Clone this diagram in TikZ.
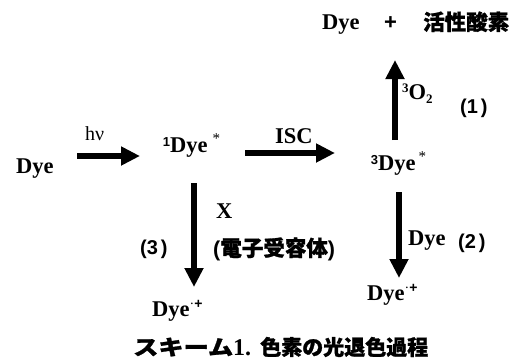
\documentclass[tikz,border=0pt]{standalone}
\usepackage{fontspec}
\setmainfont{Liberation Serif}
\setsansfont{Liberation Sans}
\newfontfamily\jp{Noto Sans CJK JP}[BoldFeatures={FakeBold=1.2}]
\usetikzlibrary{arrows.meta}
\tikzset{
  fat/.style={line width=5.5pt, -{Triangle[width=18pt,length=19pt]}},
  lbl/.style={anchor=base west, inner sep=0pt, font=\bfseries\fontsize{22.5}{22.5}\selectfont},
  num/.style={anchor=base west, inner sep=0pt, font=\sffamily\bfseries\fontsize{20}{20}\selectfont},
  jpl/.style={anchor=base west, inner sep=0pt, font=\jp\bfseries\fontsize{21.5}{21.5}\selectfont},
}
\newcommand\supnum[1]{\raisebox{6pt}{\sffamily\bfseries\fontsize{13}{13}\selectfont #1}}
\newcommand\starmark{\raisebox{9pt}{\mdseries\fontsize{15}{15}\selectfont *}}
\newcommand\radcat{\raisebox{8pt}{\fontsize{14}{14}\selectfont\mdseries ·\sffamily\bfseries +}}
\begin{document}
\begin{tikzpicture}[x=1pt,y=-1pt]
\useasboundingbox (0,0) rectangle (514,360);
% top products
\node[lbl] (dyet) at (322,29) {Dye};
\node[anchor=base west, inner sep=0pt, font=\sffamily\bfseries\fontsize{22}{22}\selectfont] (plus) at (384,29) {+};
\node[jpl] (ros) at (423,30) {活性酸素};
% main row
\node[lbl] (dye0) at (16,173) {Dye};
\node[anchor=base west, inner sep=0pt, font=\fontsize{20}{20}\selectfont] (hv) at (85,140) {hν};
\node[lbl] (s1) at (170,152) {\llap{\supnum{1}}Dye\hspace{5pt}\starmark};
\node[lbl] (isc) at (275,143) {ISC};
\node[lbl] (s3) at (378,170) {\llap{\supnum{3}}Dye\hspace{3pt}\starmark};
\node[lbl] (o2) at (402,99) {\raisebox{7pt}{\fontsize{13}{13}\selectfont 3}O\raisebox{-4pt}{\fontsize{13}{13}\selectfont 2}};
\node[num] (n1) at (460,113) {(1\hspace{3pt})};
% lower part
\node[lbl] (x) at (216,218) {X};
\node[anchor=base west, inner sep=0pt, font=\bfseries\fontsize{21.5}{21.5}\selectfont] (acc) at (213,256) {\sffamily(\jp 電子受容体\sffamily)};
\node[num] (n3) at (140,254) {(3\hspace{3pt})};
\node[lbl] (c1) at (152,316) {Dye\radcat};
\node[lbl] (dye2) at (408,245) {Dye};
\node[num] (n2) at (458,248) {(2\hspace{3pt})};
\node[lbl] (c2) at (367,300) {Dye\radcat};
% caption
\node[anchor=base west, inner sep=0pt, font=\bfseries\fontsize{21}{21}\selectfont] (cap) at (133,355) {{\jp\scalebox{1.2}[1]{スキーム}}{\fontsize{24}{24}\selectfont 1.}\hspace{9pt}{\jp 色素の光退色過程}};
% arrows
\coordinate (a1s) at (77,156);  \coordinate (a1e) at (140,156);
\coordinate (a2s) at (245,153); \coordinate (a2e) at (335,153);
\coordinate (a3s) at (395,140); \coordinate (a3e) at (395,60);
\coordinate (a4s) at (194,183); \coordinate (a4e) at (194,287);
\coordinate (a5s) at (399,192); \coordinate (a5e) at (399,278);
\draw[fat] (a1s) -- (a1e);
\draw[fat] (a2s) -- (a2e);
\draw[fat] (a3s) -- (a3e);
\draw[fat] (a4s) -- (a4e);
\draw[fat] (a5s) -- (a5e);
\end{tikzpicture}
\end{document}
